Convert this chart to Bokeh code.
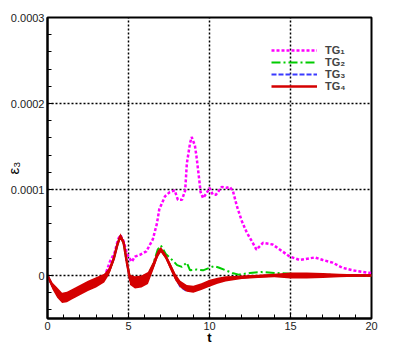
from bokeh.plotting import figure
from bokeh.models import Range1d, FixedTicker, CustomJSTickFormatter, Legend, LegendItem
from bokeh.embed import file_html
from bokeh.resources import INLINE

SCALE = 1e-4  # values below are in units of 1e-4

# TG4 (red): centre line and half-width of its noisy band
t_tg4 = [0, 0.3, 0.6, 0.9, 1.2, 1.5, 2.0, 2.5, 3.0, 3.5, 3.8, 4.1, 4.3, 4.5, 4.7, 4.9,
         5.1, 5.4, 5.8, 6.2, 6.5, 6.8, 7.0, 7.3, 7.6, 7.9, 8.2, 8.6, 9.0, 9.5, 10.0,
         10.5, 11.0, 11.5, 12.0, 13.0, 14.0, 15.0, 16.0, 17.0, 18.0, 19.0, 20.0]
tg4 = [0, -0.12, -0.2, -0.26, -0.25, -0.22, -0.17, -0.12, -0.08, -0.03, 0.05, 0.2, 0.35,
       0.46, 0.38, 0.15, -0.05, -0.08, -0.07, -0.03, 0.1, 0.25, 0.3, 0.22, 0.1, -0.02,
       -0.1, -0.15, -0.16, -0.13, -0.09, -0.06, -0.04, -0.03, -0.02, -0.01, 0.0, 0.0,
       0.0, 0.0, 0.0, 0.0, 0.0]
tg4_spread = [0.01, 0.04, 0.06, 0.06, 0.06, 0.06, 0.06, 0.06, 0.06, 0.05, 0.04, 0.03,
              0.03, 0.03, 0.03, 0.04, 0.06, 0.07, 0.07, 0.07, 0.05, 0.04, 0.03, 0.03,
              0.04, 0.04, 0.04, 0.04, 0.04, 0.04, 0.04, 0.035, 0.03, 0.025, 0.02, 0.02,
              0.02, 0.035, 0.035, 0.03, 0.02, 0.015, 0.015]

# TG3 (blue)
t_tg3 = t_tg4
tg3 = [0, -0.12, -0.2, -0.26, -0.25, -0.22, -0.17, -0.12, -0.08, -0.03, 0.05, 0.2, 0.35,
       0.46, 0.38, 0.15, -0.05, -0.08, -0.07, -0.03, 0.1, 0.25, 0.3, 0.22, 0.1, -0.03,
       -0.13, -0.18, -0.18, -0.14, -0.09, -0.06, -0.04, -0.03, -0.02, -0.01, 0.0, 0.0,
       0.0, 0.0, 0.0, 0.0, 0.0]

# TG2 (green)
t_tg2 = [0, 0.3, 0.6, 0.9, 1.2, 1.5, 2.0, 2.5, 3.0, 3.5, 3.8, 4.1, 4.3, 4.5, 4.7, 4.9,
         5.1, 5.4, 5.8, 6.2, 6.5, 6.8, 7.0, 7.3, 7.7, 8.0, 8.3, 8.6, 8.8, 9.2, 9.6, 10.0,
         10.3, 10.6, 11.0, 11.4, 11.8, 12.5, 13.2, 14.0, 15.0, 16.0, 17.0, 18.0, 20.0]
tg2 = [0, -0.12, -0.2, -0.26, -0.25, -0.22, -0.17, -0.12, -0.08, -0.03, 0.05, 0.2, 0.35,
       0.46, 0.38, 0.15, -0.04, -0.06, -0.05, 0.0, 0.12, 0.3, 0.35, 0.25, 0.18, 0.12,
       0.1, 0.15, 0.06, 0.07, 0.06, 0.09, 0.11, 0.09, 0.06, 0.03, 0.01, 0.03, 0.04,
       0.03, 0.02, 0.01, 0.01, 0.005, 0.0]

# TG1 (magenta)
t_tg1 = [0, 0.3, 0.6, 0.9, 1.2, 1.5, 2.0, 2.5, 3.0, 3.5, 3.85, 4.15, 4.35, 4.5, 4.7,
         4.9, 5.2, 5.4, 5.7, 6.1, 6.5, 6.75, 6.9, 7.25, 7.55, 7.85, 8.05, 8.3, 8.5, 8.6,
         8.8, 8.9, 9.1, 9.2, 9.35, 9.45, 9.6, 9.83, 10.0, 10.2, 10.4, 10.75, 11.05, 11.25,
         11.45, 11.7, 12.0, 12.3, 12.67, 12.9, 13.3, 13.9, 14.5, 14.95, 15.57, 16.2, 16.5,
         17.0, 17.6, 18.2, 18.85, 19.7, 20.0]
tg1 = [0, -0.12, -0.2, -0.26, -0.25, -0.22, -0.17, -0.12, -0.08, -0.03, 0.16, 0.27, 0.42,
       0.47, 0.4, 0.25, 0.16, 0.22, 0.24, 0.28, 0.42, 0.6, 0.77, 0.92, 0.97, 0.99, 0.88,
       0.88, 0.99, 1.3, 1.54, 1.61, 1.51, 1.38, 1.14, 0.97, 0.9, 0.96, 1.02, 0.94, 0.94,
       1.03, 1.02, 1.03, 0.98, 0.8, 0.63, 0.5, 0.38, 0.3, 0.38, 0.36, 0.28, 0.22, 0.18,
       0.2, 0.21, 0.18, 0.15, 0.09, 0.06, 0.035, 0.03]

labels = ["TG\u2081", "TG\u2082", "TG\u2083", "TG\u2084"]
x_label = "t"
y_label = "\u03b5\u2083"
x_ticks = [0, 5, 10, 15, 20]
x_minor = [1, 2, 3, 4, 6, 7, 8, 9, 11, 12, 13, 14, 16, 17, 18, 19]
y_ticks = [0, 0.0001, 0.0002, 0.0003]
y_minor = [-0.00004, -0.00002, 0.00002, 0.00004, 0.00006, 0.00008, 0.00012, 0.00014,
           0.00016, 0.00018, 0.00022, 0.00024, 0.00026, 0.00028]

FONT = "Liberation Sans"

p = figure(width=395, height=350, output_backend="svg", toolbar_location=None,
           x_range=Range1d(0, 20), y_range=Range1d(-0.00005, 0.0003),
           min_border_left=47, min_border_right=24, min_border_top=17, min_border_bottom=32)
p.background_fill_color = "white"
p.border_fill_color = "white"
p.outline_line_color = "black"
p.outline_line_width = 2
p.outline_line_alpha = 1

xt = FixedTicker(ticks=x_ticks, minor_ticks=x_minor)
yt = FixedTicker(ticks=y_ticks, minor_ticks=y_minor)
p.xaxis.ticker = xt
p.yaxis.ticker = yt
p.xgrid.ticker = xt
p.ygrid.ticker = yt
p.yaxis.formatter = CustomJSTickFormatter(
    code="return Math.abs(tick) < 1e-12 ? '0' : tick.toFixed(4);")
for ax in (p.xaxis, p.yaxis):
    ax.axis_line_color = "black"
    ax.axis_line_width = 2
    ax.major_tick_in = 6
    ax.major_tick_out = 0
    ax.minor_tick_in = 4
    ax.minor_tick_out = 0
    ax.major_tick_line_color = "black"
    ax.minor_tick_line_color = "black"
    ax.major_tick_line_width = 1
    ax.minor_tick_line_width = 1
    ax.major_label_text_font = FONT
    ax.major_label_text_font_size = "11px"
    ax.major_label_text_color = "#222222"
    ax.major_label_standoff = 3
    ax.axis_label_text_font = FONT
    ax.axis_label_text_color = "black"

p.xaxis.axis_label = x_label
p.xaxis.axis_label_text_font_style = "bold"
p.xaxis.axis_label_text_font_size = "13px"
p.xaxis.axis_label_standoff = -3
p.yaxis.axis_label = y_label
p.yaxis.axis_label_text_font_style = "normal"
p.yaxis.axis_label_text_font_size = "15px"
p.yaxis.axis_label_standoff = -14

for g in (p.xgrid, p.ygrid):
    g.grid_line_color = "black"
    g.grid_line_dash = "2 2"
    g.grid_line_width = 1.5
    g.grid_line_alpha = 1

S = lambda arr: [v * SCALE for v in arr]

r1 = p.line(t_tg1, S(tg1), line_color="#ff00ff", line_width=2.5, line_dash="3 2")
r2 = p.line(t_tg2, S(tg2), line_color="#00cc00", line_width=2, line_dash="9 3 2 3")
r3 = p.line(t_tg3, S(tg3), line_color="#3a3aff", line_width=2, line_dash="5 2")
lo = [(m - s) * SCALE for m, s in zip(tg4, tg4_spread)]
hi = [(m + s) * SCALE for m, s in zip(tg4, tg4_spread)]
p.varea(x=t_tg4, y1=lo, y2=hi, fill_color="#d40000", fill_alpha=1)
r4 = p.line(t_tg4, S(tg4), line_color="#d40000", line_width=2.5)

legend = Legend(items=[LegendItem(label=labels[0], renderers=[r1]),
                       LegendItem(label=labels[1], renderers=[r2]),
                       LegendItem(label=labels[2], renderers=[r3]),
                       LegendItem(label=labels[3], renderers=[r4])],
                location=(224, 226), padding=0, margin=0, spacing=0,
                glyph_width=46, glyph_height=12, label_height=12, label_standoff=8,
                label_text_font=FONT, label_text_font_style="bold",
                label_text_font_size="11px", border_line_alpha=0,
                background_fill_alpha=0)
p.add_layout(legend, "center")

open("out.html", "w").write(file_html(p, INLINE))
